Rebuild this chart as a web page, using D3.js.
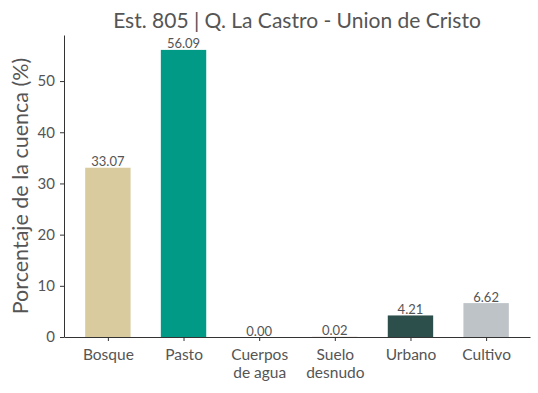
<!DOCTYPE html>
<html>
<meta charset="utf-8">
<head>
<style>
    body { margin: 0; background: #fff; }
    text { font-family: Lato, "Open Sans", sans-serif; fill: #555; }
    .domain, .tick line { stroke: #333; }
</style>
</head>
<body>
<div id="viz"></div>
<script src="https://cdn.jsdelivr.net/npm/d3@7"></script>
<script>
const width = 538;
const height = 393;
const margin = { top: 35, right: 8, bottom: 56, left: 64 };

const categories = ["Bosque", "Pasto", "Cuerpos\nde agua", "Suelo\ndesnudo", "Urbano", "Cultivo"];
const values = [33.07, 56.09, 0.00, 0.02, 4.21, 6.62];
const colors = ["#d9cb9e", "#009a87", "#1f77b4", "#8c564b", "#2c4f4b", "#bdc3c7"];
const yTicks = [0, 10, 20, 30, 40, 50];
const title = "Est. 805 | Q. La Castro - Union de Cristo";

const svg = d3.select("#viz").append("svg")
    .attr("width", width)
    .attr("height", height);

// matplotlib-like continuous x: bars of width .6 around integer positions
const x = d3.scaleLinear()
    .domain([-0.58, categories.length - 1 + 0.58])
    .range([margin.left, width - margin.right]);

const y = d3.scaleLinear()
    .domain([0, 59.0])
    .range([height - margin.bottom, margin.top]);

const barW = x(0.6) - x(0);

svg.selectAll(".bar")
    .data(values)
    .enter().append("rect")
    .attr("class", "bar")
    .attr("x", (d, i) => x(i) - barW / 2)
    .attr("y", d => y(d))
    .attr("width", barW)
    .attr("height", d => y(0) - y(d))
    .attr("fill", (d, i) => colors[i]);

svg.selectAll(".val")
    .data(values)
    .enter().append("text")
    .attr("class", "val")
    .attr("x", (d, i) => x(i))
    .attr("y", d => y(d) - 1.5)
    .attr("text-anchor", "middle")
    .style("font-size", "13px")
    .text(d => d.toFixed(2));

// axes
const yAxis = svg.append("g")
    .attr("transform", "translate(" + margin.left + ",0)")
    .call(d3.axisLeft(y).tickValues(yTicks).tickSize(4).tickPadding(5).tickSizeOuter(0));
yAxis.selectAll("text").style("font-size", "15px").attr("fill", "#555");

const xAxis = svg.append("g")
    .attr("transform", "translate(0," + y(0) + ")")
    .call(d3.axisBottom(x).tickValues(d3.range(categories.length)).tickSize(4).tickSizeOuter(0).tickFormat(""));

xAxis.selectAll(".tick").each(function(d) {
    const lines = categories[d].split("\n");
    const t = d3.select(this).append("text")
        .attr("text-anchor", "middle")
        .attr("fill", "#555")
        .style("font-size", "15.5px")
        .attr("y", 23);
    lines.forEach((l, k) => {
        t.append("tspan").attr("x", 0).attr("dy", k === 0 ? 0 : 18).text(l);
    });
});

svg.append("text")
    .attr("transform", "translate(28," + ((margin.top + y(0)) / 2) + ") rotate(-90)")
    .attr("text-anchor", "middle")
    .style("font-size", "21.5px")
    .text("Porcentaje de la cuenca (%)");

svg.append("text")
    .attr("x", (margin.left + width - margin.right) / 2)
    .attr("y", 28)
    .attr("text-anchor", "middle")
    .style("font-size", "21px")
    .text(title);
</script>
</body>
</html>
